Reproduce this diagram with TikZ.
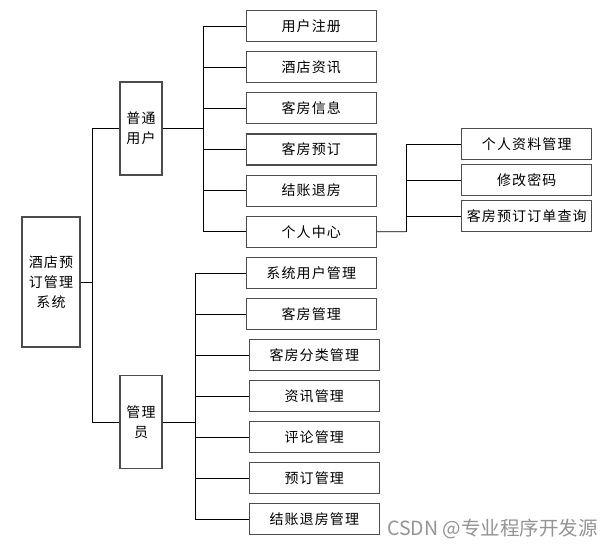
\documentclass[tikz,border=0pt]{standalone}
\usepackage{fontspec}
\newfontfamily\cjk[LetterSpace=8]{Noto Sans CJK SC}
\newfontfamily\wmfont{Noto Sans CJK SC}
\usepackage{xcolor}
\usepackage{tikz}
\usetikzlibrary{positioning}

\tikzset{
    box/.style={draw=black!70, line width=1.1pt, fill=white, align=center,
        inner sep=0pt, font=\cjk\fontsize{14}{20}\selectfont},
    leaf/.style={box, minimum width=130, minimum height=31},
    tall/.style={box, minimum width=42, minimum height=93},
    link/.style={line width=0.9pt, black}
}

\begin{document}
\begin{tikzpicture}[x=1pt,y=-1pt]
    % Page
    \path[fill=white,use as bounding box] (0,0) rectangle (613,549);

    % Root and the two user groups
    \node[box, minimum width=58, minimum height=130] (root) at (51,282) {酒店预\\订管理\\系统};
    \node[tall] (user)  at (141,128.5) {普通\\用户};
    \node[tall] (admin) at (141,422) {管理\\员};

    % Junctions
    \coordinate (rj) at (92,282);
    \coordinate (uj) at (203,128.5);
    \coordinate (aj) at (195,422);
    \coordinate (cj) at (406,231.7);

    % Ordinary user functions
    \foreach \i/\label in {1/用户注册, 2/酒店资讯, 3/客房信息, 4/客房预订, 5/结账退房, 6/个人中心}
        \node[leaf] (u\i) at (311.3,{26.2+41.1*(\i-1)}) {\label};

    % Personal centre
    \foreach \i/\label in {1/个人资料管理, 2/修改密码, 3/客房预订订单查询}
        \node[leaf] (c\i) at (526.7,{144+36*(\i-1)}) {\label};

    % Administrator functions
    \node[leaf] (a1) at (311.2,273) {系统用户管理};
    \node[leaf] (a2) at (311.2,314) {客房管理};
    \foreach \i/\label in {3/客房分类管理, 4/资讯管理, 5/评论管理, 6/预订管理, 7/结账退房管理}
        \node[leaf] (a\i) at (314.3,{273+41*(\i-1)}) {\label};

    % Connectors
    \draw[link] (root.east) -- (rj);
    \draw[link] (rj) |- (user.west);
    \draw[link] (rj) |- (admin.west);
    \draw[link] (user.east) -- (uj);
    \foreach \i in {1,...,6}
        \draw[link] (uj) |- (u\i.west);
    \draw[link] (admin.east) -- (aj);
    \foreach \i in {1,...,7}
        \draw[link] (aj) |- (a\i.west);
    \draw[link] (u6.east) -- (cj);
    \foreach \i in {1,2,3}
        \draw[link] (cj) |- (c\i.west);

    % Watermark
    \node[anchor=east, text=black!42, inner sep=0pt, font=\wmfont\fontsize{19.5}{22}\selectfont] (mark) at (598,529) {CSDN @专业程序开发源};
\end{tikzpicture}
\end{document}
